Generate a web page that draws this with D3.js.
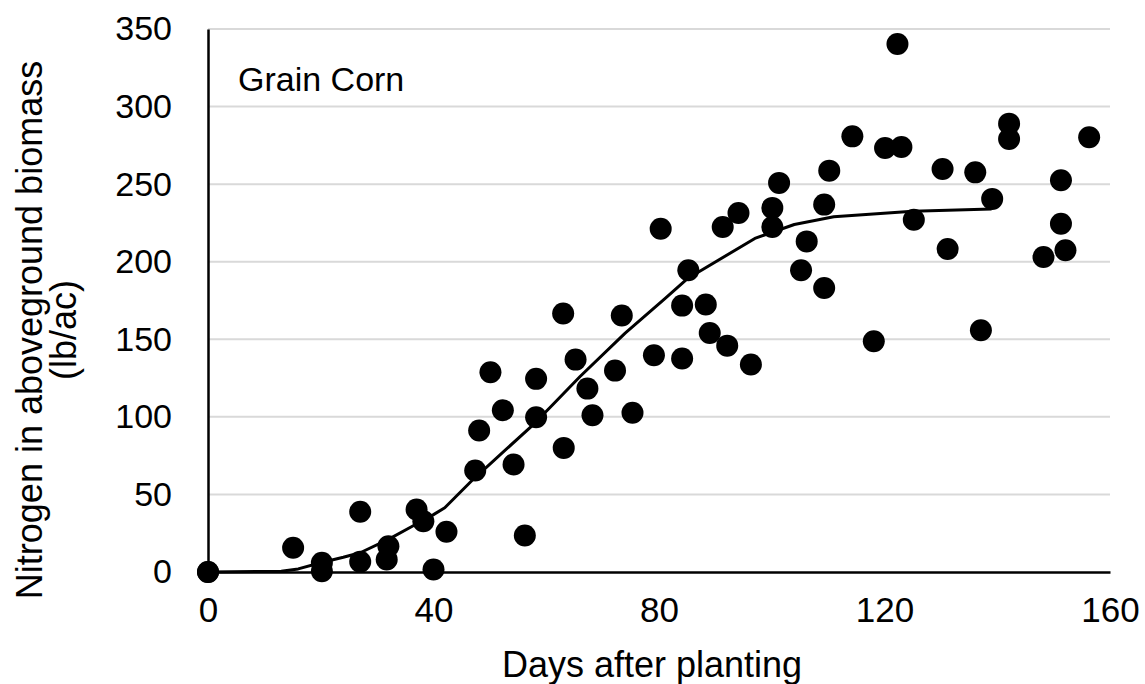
<!DOCTYPE html>
<html>
<head>
<meta charset="utf-8">
<script src="https://cdn.jsdelivr.net/npm/d3@7"></script>
<style>
	html, body { margin: 0; padding: 0; background: #ffffff; }
	svg text { font-family: "Liberation Sans", Arial, sans-serif; fill: #000000; }
</style>
</head>
<body>
<div id="chart"></div>
<script>
// Nitrogen uptake by grain corn vs. days after planting.
// Observed values (scatter) and the fitted uptake curve (line).

// Observations - days after planting and N in aboveground biomass (lb/ac)
var obsDays = [0, 0, 15.1, 20.2, 20.2, 27, 27, 32, 31.7, 37, 38.2, 40, 42.3,
	47.4, 48.1, 50.1, 52.3, 54.2, 56.2, 58.2, 58.2, 63, 63.1, 65.2, 67.3, 68.2,
	72.2, 73.4, 75.3, 79.1, 80.3, 84.1, 84.1, 85.2, 88.3, 89, 91.3, 92.1, 94.1,
	96.3, 100.1, 100.1, 101.3, 105.2, 106.2, 109.3, 109.3, 110.2, 114.3, 118.1,
	120.1, 122.3, 123, 125.2, 130.3, 131.2, 136.1, 137.1, 139.1, 142.1, 142.1,
	148.2, 151.3, 151.3, 152.1, 156.3];
var obsN = [0, 0, 15.6, 5.9, 0.5, 38.8, 6.6, 16.6, 8, 40.3, 32.7, 1.6, 25.9,
	65.4, 91.2, 128.7, 104.3, 69.3, 23.5, 124.5, 99.7, 166.6, 80, 136.9, 118.2, 101,
	129.8, 165.3, 102.6, 139.7, 221.3, 171.7, 137.6, 194.5, 172.4, 154.1, 222.4, 145.9, 231.4,
	133.7, 234.7, 222.4, 250.8, 194.5, 213.1, 236.8, 183.1, 258.7, 280.8, 148.7,
	273.3, 340.3, 274, 227.1, 259.8, 208.2, 257.6, 155.8, 240.5, 289, 279.1,
	203.1, 252.5, 224.5, 207.4, 280.2];

// Fitted curve
var fitDays = [0, 13, 16, 20, 24, 27, 32, 36, 40, 42, 47, 58, 66, 74, 81, 85, 97, 104, 111, 125, 139];
var fitN = [0, 0.5, 2, 6, 9.5, 12.4, 21, 29, 37, 41.4, 59.6, 96, 126, 154, 176, 189, 215, 224, 229, 232.5, 234];

var xTicks = [0, 40, 80, 120, 160];
var yTicks = [0, 50, 100, 150, 200, 250, 300, 350];

var chartLabel = 'Grain Corn';
var xTitle = 'Days after planting';
var yTitleLines = ['Nitrogen in aboveground biomass', '(lb/ac)'];

// Drawing area
var width = 1145,
	height = 684;
var margin = { left: 208, right: 35, top: 29, bottom: 112 };

var xScale = d3.scaleLinear()
	.domain([0, 160])
	.range([margin.left, width - margin.right]);
var yScale = d3.scaleLinear()
	.domain([0, 350])
	.range([height - margin.bottom, margin.top]);

var svg = d3.select('#chart').append('svg')
	.attr('width', width)
	.attr('height', height);

// Horizontal gridlines
svg.selectAll('line.grid')
	.data(yTicks.filter(function(d) { return d > 0; }))
	.enter()
		.append('line')
		.attr('class', 'grid')
		.attr('x1', xScale(0))
		.attr('x2', xScale(160))
		.attr('y1', function(d) { return yScale(d); })
		.attr('y2', function(d) { return yScale(d); })
		.style('stroke', '#d9d9d9')
		.style('stroke-width', '2px');

// Axis lines - no tick marks, labels drawn by d3.axis
var xAxis = d3.axisBottom(xScale)
	.tickValues(xTicks)
	.tickSize(0)
	.tickPadding(18)
	.tickFormat(d3.format('d'));
var yAxis = d3.axisLeft(yScale)
	.tickValues(yTicks)
	.tickSize(0)
	.tickPadding(36)
	.tickFormat(d3.format('d'));

var gx = svg.append('g')
	.attr('transform', 'translate(0,' + yScale(0) + ')')
	.call(xAxis);
gx.select('.domain').style('stroke', '#000').style('stroke-width', '2.5px');
gx.selectAll('text').style('font-size', '35px').attr('dy', '0.9em');

var gy = svg.append('g')
	.attr('transform', 'translate(' + xScale(0) + ',0)')
	.call(yAxis);
gy.select('.domain').style('stroke', '#000').style('stroke-width', '2.5px');
gy.selectAll('text').style('font-size', '34px').attr('dy', '0.32em');
gx.raise();

// Fitted line
var line = d3.line()
	.x(function(d, i) { return xScale(fitDays[i]); })
	.y(function(d, i) { return yScale(fitN[i]); });

svg.append('path')
	.datum(fitN)
	.attr('d', line)
	.style('fill', 'none')
	.style('stroke', '#000')
	.style('stroke-width', '3px')
	.style('stroke-linejoin', 'round');

// Observed points
svg.selectAll('circle.obs')
	.data(obsN)
	.enter()
		.append('circle')
		.attr('class', 'obs')
		.attr('cx', function(d, i) { return xScale(obsDays[i]); })
		.attr('cy', function(d) { return yScale(d); })
		.attr('r', 11)
		.style('fill', '#000');

// Texts
svg.append('text')
	.attr('x', 238)
	.attr('y', 91)
	.style('font-size', '34px')
	.text(chartLabel);

svg.append('text')
	.attr('x', 652)
	.attr('y', 677)
	.attr('text-anchor', 'middle')
	.style('font-size', '36px')
	.text(xTitle);

var yTitle = svg.append('text')
	.attr('transform', 'translate(42,330) rotate(-90)')
	.attr('text-anchor', 'middle')
	.style('font-size', '36px');
yTitle.selectAll('tspan')
	.data(yTitleLines)
	.enter()
		.append('tspan')
		.attr('x', 0)
		.attr('y', function(d, i) { return i * 34; })
		.text(function(d) { return d; });
</script>
</body>
</html>
